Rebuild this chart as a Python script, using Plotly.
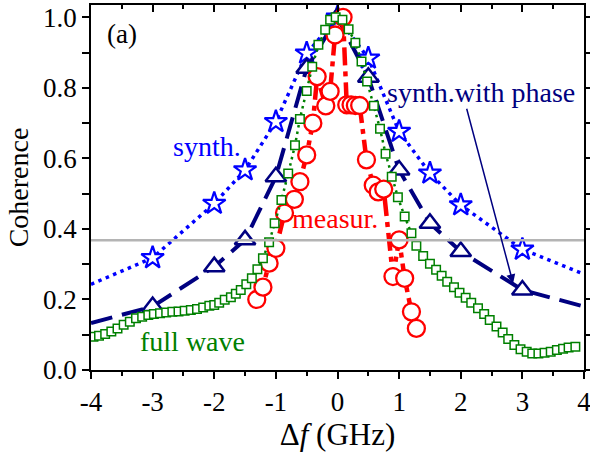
import plotly.graph_objects as go

# synth. (amplitude only) - stars, dotted blue
synth_x = [-4, -3, -2, -1.5, -1, -0.5, 0, 0.5, 1, 1.5, 2, 3, 4]
synth_y = [0.243, 0.318, 0.472, 0.567, 0.704, 0.898, 1.0, 0.884, 0.676, 0.558, 0.468, 0.342, 0.272]

# synth. with phase - triangles, dashed navy
phase_x = [-4, -3, -2, -1.5, -1, -0.5, 0, 0.5, 1, 1.5, 2, 3, 4]
phase_y = [0.133, 0.18, 0.293, 0.369, 0.548, 0.856, 1.0, 0.83, 0.567, 0.416, 0.336, 0.227, 0.18]

# measured - circles, red dash-dot
meas_x = [-1.31, -1.21, -1.11, -1.0, -0.86, -0.7, -0.61, -0.5, -0.4, -0.33, -0.19, -0.12,
          -0.04, 0.09, 0.15, 0.22, 0.29, 0.36, 0.47, 0.58, 0.66, 0.75, 0.9, 1.0, 1.09, 1.2, 1.28]
meas_y = [0.2, 0.235, 0.303, 0.345, 0.445, 0.484, 0.534, 0.61, 0.70, 0.832, 0.749, 0.79,
          0.95, 1.0, 0.752, 0.752, 0.75, 0.75, 0.596, 0.524, 0.505, 0.513, 0.265, 0.369, 0.26, 0.165, 0.118]

# full wave simulation - squares, green dotted
fw_x = [-3.96, -3.87, -3.77, -3.67, -3.57, -3.47, -3.37, -3.27, -3.17, -3.07, -2.98,
        -2.88, -2.78, -2.68, -2.58, -2.48, -2.38, -2.28, -2.18, -2.08, -2.0,
        -1.92, -1.83, -1.73, -1.65, -1.57, -1.48, -1.39, -1.3, -1.21, -1.11, -1.02,
        -0.91, -0.8, -0.69, -0.61, -0.5, -0.41, -0.31, -0.2, -0.12, -0.03,
        0.08, 0.18, 0.29, 0.39, 0.48, 0.59, 0.69, 0.78, 0.88, 0.98,
        1.09, 1.2, 1.28, 1.39, 1.5, 1.6, 1.69, 1.78, 1.89, 1.98,
        2.08, 2.17, 2.28, 2.38, 2.47, 2.58, 2.68, 2.77, 2.87, 2.97,
        3.07, 3.16, 3.26, 3.36, 3.46, 3.56, 3.66, 3.75, 3.86]
fw_y = [0.094, 0.097, 0.102, 0.109, 0.118, 0.128, 0.137, 0.147, 0.151, 0.156, 0.159,
        0.161, 0.163, 0.165, 0.166, 0.168, 0.170, 0.173, 0.177, 0.182, 0.184,
        0.191, 0.199, 0.206, 0.216, 0.227, 0.243, 0.26, 0.286, 0.317, 0.362, 0.416,
        0.482, 0.557, 0.637, 0.712, 0.791, 0.86, 0.922, 0.965, 0.993, 1.0,
        0.993, 0.966, 0.928, 0.875, 0.818, 0.749, 0.684, 0.613, 0.548, 0.49,
        0.435, 0.388, 0.352, 0.323, 0.301, 0.284, 0.267, 0.25, 0.235, 0.219,
        0.205, 0.191, 0.175, 0.159, 0.142, 0.123, 0.106, 0.088, 0.071, 0.059,
        0.052, 0.047, 0.047, 0.049, 0.052, 0.057, 0.06, 0.064, 0.066]

# 1/e level
level_x = [-4, 4]
level_y = [0.368, 0.368]

x_ticks = [-4, -3, -2, -1, 0, 1, 2, 3, 4]
x_labels = ["-4", "-3", "-2", "-1", "0", "1", "2", "3", "4"]

FONT = "Liberation Serif"
BLUE = "#0000ff"
NAVY = "#000080"
RED = "#ff0000"
GREEN = "#008000"

fig = go.Figure()

# grey 1/e line (on the top overlay axis so that axis gets drawn)
fig.add_trace(go.Scatter(x=level_x, y=level_y, mode="lines", xaxis="x2",
                         line=dict(color="#b4b4b4", width=2.5), hoverinfo="skip"))

star_alpha = [0] + [1] * (len(synth_x) - 2) + [0]
fig.add_trace(go.Scatter(x=synth_x, y=synth_y, mode="lines+markers", name="synth.",
                         line=dict(color=BLUE, width=3.5, dash="3.5px,4.5px"),
                         marker=dict(symbol="star", size=17, color="white",
                                     opacity=star_alpha, line=dict(width=2.2, color=BLUE))))

tri_alpha = [0] + [1] * (len(phase_x) - 2) + [0]
fig.add_trace(go.Scatter(x=phase_x, y=phase_y, mode="lines+markers", name="synth.with phase",
                         line=dict(color=NAVY, width=4, dash="22px,10px"),
                         marker=dict(symbol="triangle-up", size=18, color="white",
                                     opacity=tri_alpha, line=dict(width=2.5, color=NAVY))))

fig.add_trace(go.Scatter(x=meas_x, y=meas_y, mode="lines+markers", name="measur.",
                         line=dict(color=RED, width=4.5, dash="18px,6px,5px,6px"),
                         marker=dict(symbol="circle", size=17, color="white",
                                     line=dict(width=2.3, color=RED))))

fig.add_trace(go.Scatter(x=fw_x, y=fw_y, mode="lines+markers", name="full wave",
                         line=dict(color=GREEN, width=2.5, dash="2.5px,4px"),
                         marker=dict(symbol="square", size=8.5, color="white",
                                     line=dict(width=1.5, color=GREEN))))

txt = dict(family=FONT, size=28)
fig.add_annotation(x=-3.49, y=0.953, text="(a)", showarrow=False, font=dict(txt, size=27, color="black"))
fig.add_annotation(x=-2.12, y=0.633, text="synth.", showarrow=False, font=dict(txt, color=BLUE))
fig.add_annotation(x=2.33, y=0.786, text="synth.with phase", showarrow=False, font=dict(txt, color=NAVY))
fig.add_annotation(x=-0.04, y=0.431, text="measur.", showarrow=False, font=dict(txt, color=RED))
fig.add_annotation(x=-2.35, y=0.08, text="full wave", showarrow=False, font=dict(txt, color=GREEN))
# arrow pointing to the synth.with phase curve
fig.add_annotation(x=2.85, y=0.246, ax=2.09, ay=0.745, axref="x", ayref="y",
                   text="", showarrow=True, arrowhead=2, arrowsize=1.2,
                   arrowwidth=1.5, arrowcolor=NAVY)

axis_common = dict(showgrid=False, zeroline=False, linecolor="black", linewidth=1.5,
                   tickcolor="black", tickwidth=1.5, automargin=False)

fig.update_layout(
    width=590, height=454,
    margin=dict(l=91, r=6, t=5, b=84),
    plot_bgcolor="white", paper_bgcolor="white",
    showlegend=False,
    font=dict(family=FONT, size=27, color="black"),
    xaxis=dict(axis_common, range=[-4, 4], tickmode="array", tickvals=x_ticks, ticktext=x_labels,
               ticks="outside", ticklen=7, mirror=True, ticklabeloverflow="allow",
               minor=dict(ticks="outside", ticklen=4, dtick=0.5, tick0=0, tickcolor="black"),
               title=dict(text="Δ<i>f</i> (GHz)", font=dict(family=FONT, size=31), standoff=4)),
    xaxis2=dict(axis_common, overlaying="x", side="top", range=[-4, 4], tickmode="array",
                tickvals=x_ticks, showticklabels=False, ticks="inside", ticklen=7,
                minor=dict(ticks="inside", ticklen=4, dtick=0.5, tick0=0, tickcolor="black")),
    yaxis=dict(axis_common, range=[0, 1.035], dtick=0.2, tick0=0, tickformat=".1f",
               ticks="outside", ticklen=7, mirror="allticks", ticklabeloverflow="allow",
               minor=dict(ticks="outside", ticklen=4, dtick=0.1, tick0=0, tickcolor="black"),
               title=dict(text="Coherence", font=dict(family=FONT, size=28), standoff=6)),
)

fig.write_html("out.html", config={"displayModeBar": False},
               post_script="document.body.style.margin='0';document.body.style.overflow='hidden';")
